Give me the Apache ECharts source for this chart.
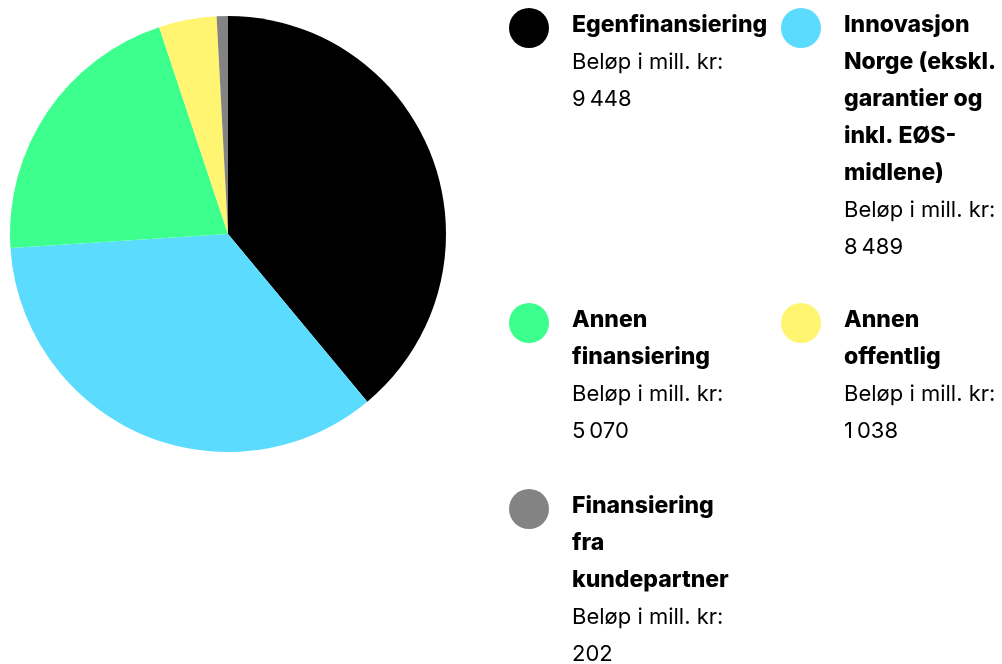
<!DOCTYPE html>
<html><head><meta charset="utf-8">
<script src="https://cdn.jsdelivr.net/npm/echarts@6/dist/echarts.min.js"></script>
<style>html,body{margin:0;padding:0;background:#fff}#c{width:1002px;height:664px}</style>
</head><body><div id="c"></div>
<script>
const categories = ['Egenfinansiering', 'Innovasjon Norge (ekskl. garantier og inkl. EØS-midlene)', 'Annen finansiering', 'Annen offentlig', 'Finansiering fra kundepartner'];
const labelLines = [['Egenfinansiering'], ['Innovasjon', 'Norge (ekskl.', 'garantier og', 'inkl. EØS-', 'midlene)'], ['Annen', 'finansiering'], ['Annen', 'offentlig'], ['Finansiering', 'fra', 'kundepartner']];
const values = [9448, 8489, 5070, 1038, 202];
const colors = ['#000000', '#5BDCFF', '#3DFF8E', '#FFF570', '#838383'];
const amountLabel = 'Beløp i mill. kr:';

const fmt = v => String(v).replace(/\B(?=(\d{3})+(?!\d))/g, '\u2009');
const legendPos = [[509, 28], [781, 28], [509, 323], [781, 323], [509, 509]];
const LH = 37, D = 2.5, FONT = 'Inter';

const legends = categories.map((name, i) => {
  const lines = labelLines[i].map(s => '{b|' + s + '}').concat(['{n|' + amountLabel + '}', '{n|' + fmt(values[i]) + '}']);
  const N = lines.length;
  const H = N * LH, P = (N - 1) * LH - 2 * D;
  return {
    data: [name], left: legendPos[i][0], top: legendPos[i][1] - (H + P) / 2,
    orient: 'vertical', padding: 0, icon: 'circle', itemWidth: 40, itemHeight: 40,
    selectedMode: false,
    formatter: () => lines.join('\n'),
    textStyle: {
      padding: [P, 0, 0, 18], lineHeight: LH,
      rich: {
        b: { fontFamily: FONT, fontWeight: 800, fontSize: 23, lineHeight: LH, color: '#000' },
        n: { fontFamily: FONT, fontSize: 22, lineHeight: LH, color: '#000' }
      }
    }
  };
});

const chart = echarts.init(document.getElementById('c'), null, { renderer: 'canvas' });
chart.setOption({
  animation: false,
  color: colors,
  legend: legends,
  series: [{
    type: 'pie',
    center: [228, 234],
    radius: 218,
    startAngle: 90,
    clockwise: true,
    label: { show: false },
    labelLine: { show: false },
    itemStyle: { borderWidth: 0 },
    emphasis: { disabled: true },
    data: categories.map((n, i) => ({ name: n, value: values[i] }))
  }]
});
</script></body></html>
